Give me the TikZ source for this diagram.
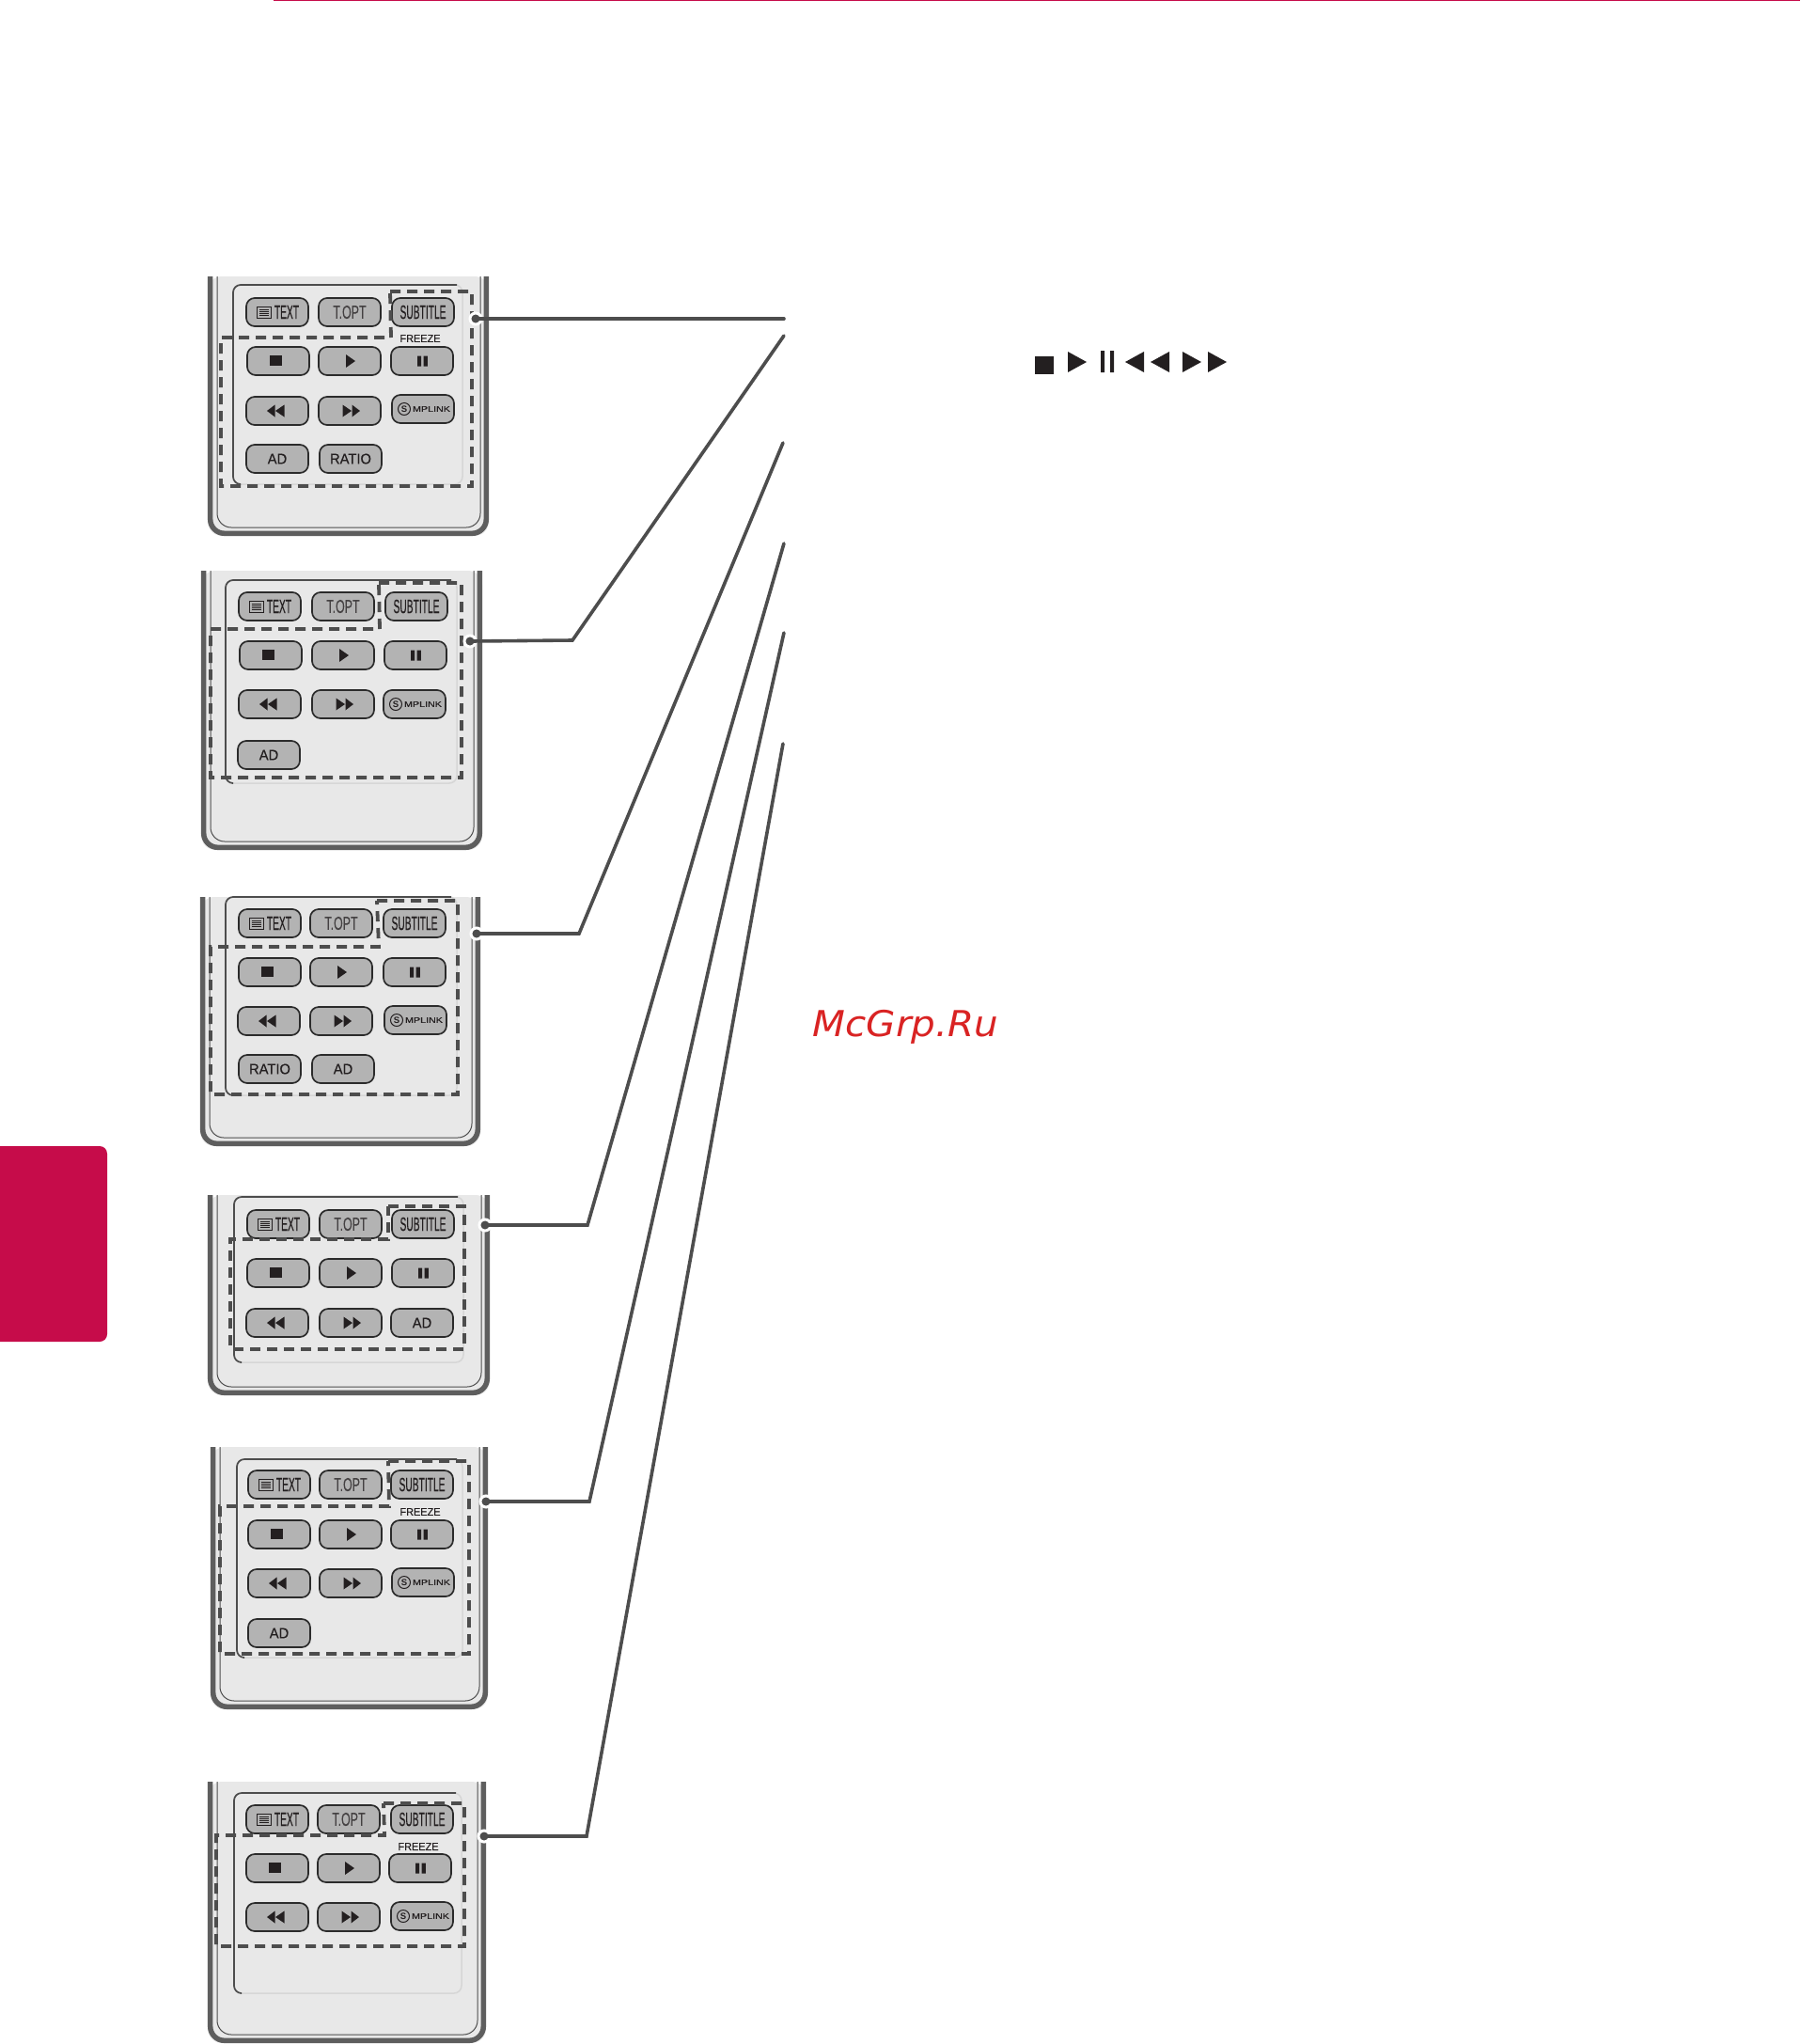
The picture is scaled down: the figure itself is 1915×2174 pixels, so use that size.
\documentclass[tikz,border=0pt]{standalone}
\usepackage{fontspec}
\setmainfont{Liberation Sans}
\newfontfamily\narrowfont[FakeStretch=0.5,FakeBold=0.2]{Liberation Sans}
\newfontfamily\optfont[FakeStretch=0.62,FakeBold=0.1]{Liberation Sans}
\newfontfamily\midfont[FakeStretch=0.95,FakeBold=0.4]{Liberation Sans}
\newfontfamily\logofont[FakeStretch=1.26,FakeBold=0.3]{Liberation Sans}
\newfontfamily\wmfont[FakeStretch=1.065]{DejaVu Sans}

\definecolor{caseedge}{HTML}{5E5E5E}
\definecolor{casefill}{HTML}{E8E8E8}
\definecolor{panelrim}{HTML}{D6D6D6}
\definecolor{keyfill}{HTML}{B3B3B3}
\definecolor{keyedge}{HTML}{2B2B2B}
\definecolor{leadgray}{HTML}{4D4D4D}
\definecolor{inkblack}{HTML}{231F20}
\definecolor{lgred}{HTML}{C60C4A}
\definecolor{wmred}{HTML}{D92323}

\tikzstyle{key} = [draw=keyedge,fill=keyfill,line width=1.7pt,rounded corners=9pt,minimum width=66pt,minimum height=30pt,inner sep=0pt]
\tikzstyle{wordkey} = [key,font=\narrowfont\fontsize{20.5}{21}\selectfont,text=inkblack]
\tikzstyle{optkey} = [key,font=\optfont\fontsize{20}{21}\selectfont,text=inkblack!85]
\tikzstyle{smallkey} = [key,font=\midfont\fontsize{15.5}{16}\selectfont,text=inkblack]
\tikzstyle{freeze} = [inner sep=0pt,font=\midfont\fontsize{11.5}{12}\selectfont,text=inkblack]
\tikzstyle{dashbox} = [draw=leadgray,line width=3.8pt,dash pattern=on 11pt off 7pt]
\tikzstyle{lead} = [draw=leadgray,line width=3.6pt,line cap=round]
\tikzstyle{leaddot} = [circle,draw=white,fill=leadgray,line width=3pt,minimum size=12pt,inner sep=0pt]
\tikzstyle{logoS} = [circle,draw=inkblack,line width=1pt,minimum size=13pt,inner sep=0pt,font=\bfseries\fontsize{9.5}{10}\selectfont,text=inkblack]
\tikzstyle{logotxt} = [inner sep=0pt,font=\logofont\fontsize{8.5}{9}\selectfont,text=inkblack]

\tikzset{
  stopsym/.pic={\fill[inkblack] (-9,-6.5) rectangle (3.5,4.5);},
  playsym/.pic={\fill[inkblack] (-4,-7) -- (6,0) -- (-4,7) -- cycle;},
  pausesym/.pic={\fill[inkblack] (-5,-5.5) rectangle (-1,5.5) (1.6,-5.5) rectangle (5.8,5.5);},
  rewsym/.pic={\fill[inkblack] (-11,0) -- (-2.5,-6.5) -- (-2.5,6.5) -- cycle (-2,0) -- (7.5,-6.5) -- (7.5,6.5) -- cycle;},
  ffsym/.pic={\fill[inkblack] (11,0) -- (2.5,-6.5) -- (2.5,6.5) -- cycle (2,0) -- (-7.5,-6.5) -- (-7.5,6.5) -- cycle;},
  textsym/.pic={\draw[inkblack,line width=1pt] (-22,-6) rectangle (-7,6);
    \foreach \ly in {-3,-1,1,3} {\draw[inkblack,line width=.9pt] (-19.5,\ly) -- (-9.5,\ly);}},
  linksym/.pic={\node (-s) at (-20,0) [logoS] {S}; \node (-t) at (9,0) [logotxt] {MPLINK};}
}

% case: left, right, top, bottom
\newcommand{\remotecase}[4]{
  \fill[casefill,rounded corners=15pt] (#1,#3) -- (#1,#4) -- (#2,#4) -- (#2,#3) -- cycle;
  \draw[caseedge,line width=5.5pt,rounded corners=15pt] (#1+2.7,#3) -- (#1+2.7,#4-2.7) -- (#2-2.7,#4-2.7) -- (#2-2.7,#3);
  \draw[leadgray,line width=1pt,rounded corners=15pt] (#1+10,#3) -- (#1+10,#4-9) -- (#2-9,#4-9) -- (#2-9,#3);
}
% panel: left, right, top, bottom
\newcommand{\keypanel}[4]{
  \draw[panelrim,fill=casefill,line width=1.5pt,rounded corners=8pt] (#1,#3) rectangle (#2,#4);
  \draw[leadgray,line width=1.7pt,rounded corners=8pt] (#1+7,#4) -- (#1,#4) -- (#1,#3) -- (#2-6,#3);
}

\begin{document}
\begin{tikzpicture}[x=1pt,y=-1pt]
\useasboundingbox (0,0) rectangle (1915,2174);

\fill[lgred] (291,0) rectangle (1915,1.3);
\fill[lgred,rounded corners=8pt] (-12,1219) rectangle (114,1427);

% first remote
\remotecase{221}{520}{294}{570}
\keypanel{248}{492}{303}{515}
\node (r1text) at (295,332) [wordkey] {\hspace*{20pt}TEXT}; \pic at (r1text) {textsym};
\node (r1opt) at (372,332) [optkey] {T.OPT};
\node (r1sub) at (450,332) [wordkey] {SUBTITLE};
\node (r1stop) at (296,384) [key] {}; \pic at (r1stop) {stopsym};
\node (r1play) at (372,384) [key] {}; \pic at (r1play) {playsym};
\node (r1pause) at (449,384) [key] {}; \pic at (r1pause) {pausesym};
\node (r1rew) at (295,437) [key] {}; \pic at (r1rew) {rewsym};
\node (r1ff) at (372,437) [key] {}; \pic at (r1ff) {ffsym};
\node (r1link) at (450,435) [key] {}; \pic (r1logo) at (r1link) {linksym};
\node (r1ad) at (295,488) [smallkey] {AD};
\node (r1ratio) at (373,488) [smallkey] {RATIO};
\node (r1frz) at (447,360) [freeze] {FREEZE};
\path[dashbox] (415,310) -- (502,310) -- (502,517) -- (235,517) -- (235,359) -- (416,359) -- cycle;

% second remote
\remotecase{214}{513}{607}{904}
\keypanel{240}{486}{617}{833}
\node (r2text) at (287,645) [wordkey] {\hspace*{20pt}TEXT}; \pic at (r2text) {textsym};
\node (r2opt) at (365,645) [optkey] {T.OPT};
\node (r2sub) at (443,645) [wordkey] {SUBTITLE};
\node (r2stop) at (288,697) [key] {}; \pic at (r2stop) {stopsym};
\node (r2play) at (365,697) [key] {}; \pic at (r2play) {playsym};
\node (r2pause) at (442,697) [key] {}; \pic at (r2pause) {pausesym};
\node (r2rew) at (287,749) [key] {}; \pic at (r2rew) {rewsym};
\node (r2ff) at (365,749) [key] {}; \pic at (r2ff) {ffsym};
\node (r2link) at (441,749) [key] {}; \pic (r2logo) at (r2link) {linksym};
\node (r2ad) at (286,803) [smallkey] {AD};
\path[dashbox] (403,620) -- (491,620) -- (491,827) -- (224,827) -- (224,669) -- (404,669) -- cycle;

% third remote
\remotecase{213}{511}{954}{1219}
\keypanel{240}{486}{954}{1165}
\node (r3text) at (287,982) [wordkey] {\hspace*{20pt}TEXT}; \pic at (r3text) {textsym};
\node (r3opt) at (363,982) [optkey] {T.OPT};
\node (r3sub) at (441,982) [wordkey] {SUBTITLE};
\node (r3stop) at (287,1034) [key] {}; \pic at (r3stop) {stopsym};
\node (r3play) at (363,1034) [key] {}; \pic at (r3play) {playsym};
\node (r3pause) at (441,1034) [key] {}; \pic at (r3pause) {pausesym};
\node (r3rew) at (286,1086) [key] {}; \pic at (r3rew) {rewsym};
\node (r3ff) at (363,1086) [key] {}; \pic at (r3ff) {ffsym};
\node (r3link) at (442,1085) [key] {}; \pic (r3logo) at (r3link) {linksym};
\node (r3ratio) at (287,1137) [smallkey] {RATIO};
\node (r3ad) at (365,1137) [smallkey] {AD};
\path[dashbox] (401,958) -- (487,958) -- (487,1164) -- (224,1164) -- (224,1007) -- (403,1007) -- cycle;

% fourth remote
\remotecase{221}{521}{1271}{1484}
\keypanel{249}{493}{1273}{1449}
\node (r4text) at (296,1302) [wordkey] {\hspace*{20pt}TEXT}; \pic at (r4text) {textsym};
\node (r4opt) at (373,1302) [optkey] {T.OPT};
\node (r4sub) at (450,1302) [wordkey] {SUBTITLE};
\node (r4stop) at (296,1354) [key] {}; \pic at (r4stop) {stopsym};
\node (r4play) at (373,1354) [key] {}; \pic at (r4play) {playsym};
\node (r4pause) at (450,1354) [key] {}; \pic at (r4pause) {pausesym};
\node (r4rew) at (295,1407) [key] {}; \pic at (r4rew) {rewsym};
\node (r4ff) at (373,1407) [key] {}; \pic at (r4ff) {ffsym};
\node (r4ad) at (449,1407) [smallkey] {AD};
\path[dashbox] (413,1283) -- (494,1283) -- (494,1435) -- (245,1435) -- (245,1318) -- (413,1318) -- cycle;

% fifth remote
\remotecase{224}{519}{1539}{1818}
\keypanel{252}{492}{1552}{1763}
\node (r5text) at (297,1579) [wordkey] {\hspace*{20pt}TEXT}; \pic at (r5text) {textsym};
\node (r5opt) at (373,1579) [optkey] {T.OPT};
\node (r5sub) at (449,1579) [wordkey] {SUBTITLE};
\node (r5stop) at (297,1632) [key] {}; \pic at (r5stop) {stopsym};
\node (r5play) at (373,1632) [key] {}; \pic at (r5play) {playsym};
\node (r5pause) at (449,1632) [key] {}; \pic at (r5pause) {pausesym};
\node (r5rew) at (297,1684) [key] {}; \pic at (r5rew) {rewsym};
\node (r5ff) at (373,1684) [key] {}; \pic at (r5ff) {ffsym};
\node (r5link) at (450,1683) [key] {}; \pic (r5logo) at (r5link) {linksym};
\node (r5ad) at (297,1737) [smallkey] {AD};
\node (r5frz) at (447,1608) [freeze] {FREEZE};
\path[dashbox] (413,1554) -- (499,1554) -- (499,1759) -- (234,1759) -- (234,1602) -- (414,1602) -- cycle;

% sixth remote
\remotecase{221}{517}{1895}{2173}
\keypanel{249}{491}{1907}{2120}
\node (r6text) at (295,1935) [wordkey] {\hspace*{20pt}TEXT}; \pic at (r6text) {textsym};
\node (r6opt) at (371,1935) [optkey] {T.OPT};
\node (r6sub) at (449,1935) [wordkey] {SUBTITLE};
\node (r6stop) at (295,1987) [key] {}; \pic at (r6stop) {stopsym};
\node (r6play) at (371,1987) [key] {}; \pic at (r6play) {playsym};
\node (r6pause) at (447,1987) [key] {}; \pic at (r6pause) {pausesym};
\node (r6rew) at (295,2039) [key] {}; \pic at (r6rew) {rewsym};
\node (r6ff) at (371,2039) [key] {}; \pic at (r6ff) {ffsym};
\node (r6link) at (449,2038) [key] {}; \pic (r6logo) at (r6link) {linksym};
\node (r6frz) at (445,1964) [freeze] {FREEZE};
\path[dashbox] (408,1918) -- (494,1918) -- (494,2070) -- (230,2070) -- (230,1952) -- (409,1952) -- cycle;

% leaders
\coordinate (end1) at (834,339);
\coordinate (end2) at (834,357);
\coordinate (end3) at (833,471);
\coordinate (end4) at (834,578);
\coordinate (end5) at (834,673);
\coordinate (end6) at (833,791);
\coordinate (bend2) at (609,681);
\coordinate (bend3) at (616,993);
\coordinate (bend4) at (625,1303);
\coordinate (bend5) at (627,1597);
\coordinate (bend6) at (624,1953);
\node (dot1) at (506,339) [leaddot] {};
\node (dot2) at (500,682) [leaddot] {};
\node (dot3) at (507,993) [leaddot] {};
\node (dot4) at (516,1303) [leaddot] {};
\node (dot5) at (517,1597) [leaddot] {};
\node (dot6) at (515,1953) [leaddot] {};
\path[lead] (dot1.center) -- (end1);
\path[lead] (dot2.center) -- (bend2) -- (end2);
\path[lead] (dot3.center) -- (bend3) -- (end3);
\path[lead] (dot4.center) -- (bend4) -- (end4);
\path[lead] (dot5.center) -- (bend5) -- (end5);
\path[lead] (dot6.center) -- (bend6) -- (end6);

% symbol row
\fill[inkblack] (1101,379) rectangle (1121,398);
\fill[inkblack] (1136,374) -- (1156,385) -- (1136,396) -- cycle;
\fill[inkblack] (1171,373) rectangle (1175,396) (1181,373) rectangle (1185,396);
\fill[inkblack] (1217,374) -- (1197,385) -- (1217,396) -- cycle;
\fill[inkblack] (1244,374) -- (1224,385) -- (1244,396) -- cycle;
\fill[inkblack] (1258,374) -- (1278,385) -- (1258,396) -- cycle;
\fill[inkblack] (1285,374) -- (1305,385) -- (1285,396) -- cycle;

\node (mark) at (963.5,1102) [anchor=base,inner sep=0pt,text=wmred,font=\wmfont\itshape\fontsize{38}{38}\selectfont] {McGrp.Ru};
\end{tikzpicture}
\end{document}
